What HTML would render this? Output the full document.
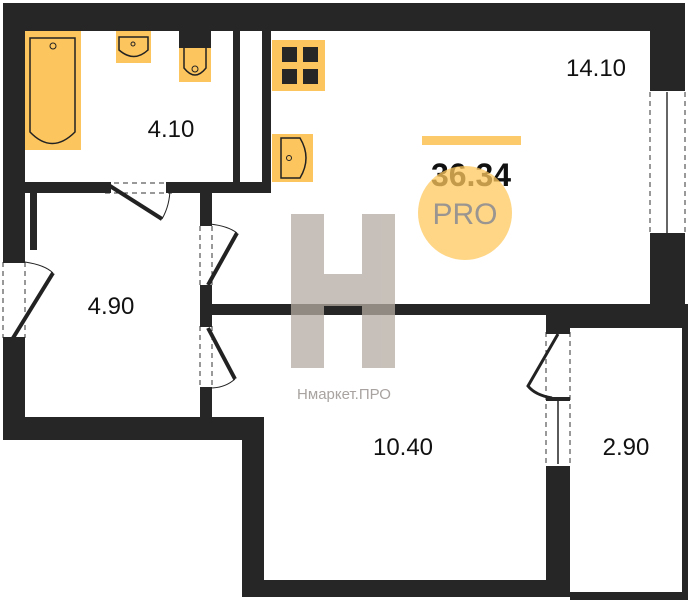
<!DOCTYPE html>
<html><head><meta charset="utf-8"><style>
html,body{margin:0;padding:0;background:#fff;}
svg{display:block;}
text{font-family:"Liberation Sans","DejaVu Sans",sans-serif;}
</style></head><body>
<svg width="688" height="600" viewBox="0 0 688 600" xmlns="http://www.w3.org/2000/svg">
<g fill="#262626">
<rect x="3" y="3" width="682" height="28"/>
<rect x="3" y="3" width="22" height="255"/>
<rect x="30" y="193" width="7" height="57"/>
<rect x="3" y="342" width="22" height="98"/>
<rect x="3" y="417" width="261" height="23"/>
<rect x="242" y="417" width="22" height="180"/>
<rect x="242" y="580" width="328" height="17"/>
<rect x="233" y="31" width="7" height="151"/>
<rect x="262" y="31" width="9" height="162"/>
<rect x="25" y="182" width="80" height="11"/>
<rect x="172" y="182" width="99" height="11"/>
<rect x="200" y="193" width="12" height="29"/>
<rect x="200" y="287" width="12" height="35"/>
<rect x="200" y="390" width="12" height="30"/>
<rect x="212" y="304" width="438" height="11"/>
<rect x="650" y="3" width="35" height="84"/>
<rect x="650" y="237" width="35" height="91"/>
<rect x="570" y="304" width="118" height="24"/>
<rect x="682" y="304" width="6" height="296"/>
<rect x="570" y="592" width="118" height="8"/>
<rect x="546" y="304" width="24" height="26"/>
<rect x="546" y="466" width="24" height="131"/>
</g>
<g stroke="#333" fill="none">
<line x1="650" y1="92" x2="650" y2="233" stroke-dasharray="5,4"/>
<line x1="685" y1="92" x2="685" y2="233" stroke-dasharray="5,4"/>
<line x1="667" y1="92" x2="667" y2="233" stroke-width="1.5"/>
</g>
<rect x="650" y="87" width="35" height="4" fill="#262626"/>
<rect x="650" y="233" width="35" height="4" fill="#262626"/>
<g stroke="#333" fill="none" stroke-dasharray="5,4">
<line x1="3" y1="262" x2="3" y2="338"/><line x1="25" y1="262" x2="25" y2="338"/>
<line x1="105" y1="183" x2="172" y2="183"/><line x1="105" y1="193" x2="172" y2="193"/>
<line x1="200" y1="226" x2="200" y2="286"/><line x1="212" y1="226" x2="212" y2="286"/>
<line x1="200" y1="326" x2="200" y2="388"/><line x1="212" y1="326" x2="212" y2="388"/>
<line x1="546" y1="332" x2="546" y2="464"/><line x1="570" y1="332" x2="570" y2="464"/>
</g>
<g stroke="#222" stroke-width="4">
<line x1="13" y1="338" x2="53" y2="273"/>
<line x1="110" y1="186" x2="162" y2="219"/>
<line x1="208" y1="285" x2="237" y2="233"/>
<line x1="208" y1="328" x2="235" y2="379"/>
</g>
<g stroke="#222" stroke-width="1" fill="none">
<path d="M25 262 Q45 265 53 273"/>
<path d="M162 219 Q170 205 170 188"/>
<path d="M210 224 Q228 226 237 233"/>
<path d="M235 379 Q225 388 210 388"/>
<path d="M558 334 L528 386 Q535 395 552 398" stroke-width="3"/>
<line x1="558" y1="398" x2="558" y2="464" stroke-width="1.5"/>
</g>
<g fill="#262626">
<rect x="3" y="258" width="22" height="5"/><rect x="3" y="337" width="22" height="5"/>
<rect x="105" y="182" width="6" height="11"/><rect x="166" y="182" width="6" height="11"/>
<rect x="200" y="221" width="12" height="5"/><rect x="200" y="285" width="12" height="5"/>
<rect x="200" y="322" width="12" height="5"/><rect x="200" y="387" width="12" height="5"/>
<rect x="546" y="330" width="24" height="4"/><rect x="546" y="397" width="24" height="4"/>
</g>
<g fill="#fdc55e" stroke="#222" stroke-width="1">
<rect x="25" y="31" width="56" height="119" stroke="none"/>
<path d="M30 38 H75 V132 Q52 155 30 132 Z" stroke-width="1.5"/>
<rect x="116" y="31" width="35" height="32" stroke="none"/>
<path d="M119 37 H148 V50 Q134 63 119 50 Z" stroke-width="1.5"/>
<rect x="179" y="48" width="32" height="34" stroke="none"/>
<path d="M184 48 V68 Q195 82 206 68 V48" stroke-width="1.5"/>
<rect x="272" y="40" width="53" height="51" stroke="none"/>
<rect x="272" y="134" width="41" height="48" stroke="none"/>
<path d="M281 138 H300 Q312 158 300 178 H281 Z" stroke-width="1.5"/>
</g>
<rect x="179" y="31" width="32" height="17" fill="#262626"/>
<g fill="#262626"><rect x="282" y="47" width="15" height="15"/><rect x="303" y="47" width="15" height="15"/><rect x="282" y="69" width="15" height="15"/><rect x="303" y="69" width="15" height="15"/></g>
<g fill="none" stroke="#222"><circle cx="53" cy="46" r="3"/><circle cx="133" cy="44" r="2"/><circle cx="195" cy="69" r="3"/><circle cx="289" cy="158" r="2.5"/></g>
<g fill="#b5aca3" opacity="0.75">
<rect x="291" y="214" width="33" height="154"/>
<rect x="362" y="214" width="33" height="154"/>
<rect x="324" y="274" width="38" height="32"/>
</g>
<text x="344" y="399" font-size="15" fill="#a8a3a0" text-anchor="middle">Нмаркет.ПРО</text>
<rect x="422" y="136" width="99" height="9" fill="#fcca6a"/>
<text x="471" y="186" font-size="32" font-weight="bold" fill="#111" text-anchor="middle">36.34</text>
<circle cx="465" cy="213" r="47" fill="#fdc85e" opacity="0.75"/>
<text x="465" y="224" font-size="30" fill="#9a9590" text-anchor="middle">PRO</text>
<g font-size="24" fill="#111" text-anchor="middle">
<text x="171" y="137">4.10</text>
<text x="596" y="76">14.10</text>
<text x="111" y="314">4.90</text>
<text x="403" y="455">10.40</text>
<text x="626" y="455">2.90</text>
</g>
</svg>
</body></html>
